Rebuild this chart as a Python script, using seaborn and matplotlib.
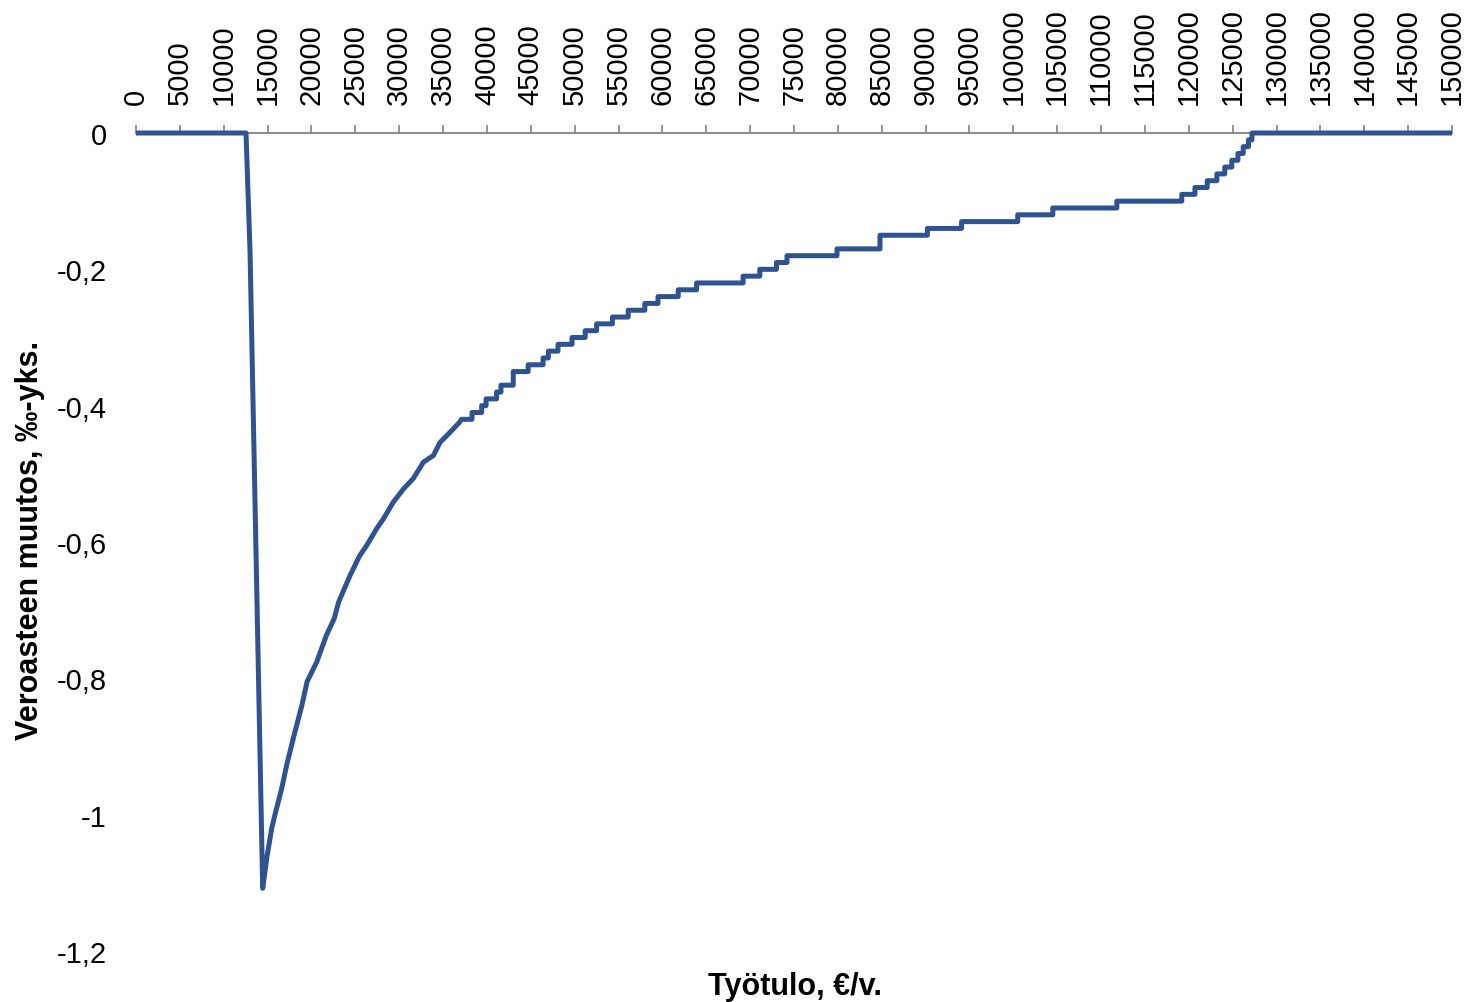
import matplotlib
matplotlib.use("Agg")
import matplotlib.pyplot as plt
import seaborn as sns
import pandas as pd
import numpy as np

# ---- data ----
# smooth (steep) part: income (€/yr) and change in tax rate (%-points)
smooth_income = [0, 12540, 13000, 14440, 14900, 15470, 15840, 16600, 17180, 17930,
                 18900, 19500, 20600, 21700, 22600, 23100, 24400, 25500, 26300,
                 27400, 28200, 29300, 30500, 31600, 32750, 33900, 34650, 35800, 36900]
smooth_rate = [0, 0, -0.175, -1.108, -1.064, -1.02, -1.0, -0.962, -0.927, -0.888,
               -0.84, -0.805, -0.776, -0.737, -0.712, -0.688, -0.649, -0.62, -0.605,
               -0.581, -0.566, -0.542, -0.522, -0.507, -0.483, -0.473, -0.454, -0.439, -0.424]

# stepped part (values rounded to 0.01): income where each level starts
step_start = [37100, 38300, 39400, 39900, 41100, 41600, 43000, 44700, 46400, 47000,
              48100, 49700, 51200, 52500, 54300, 56100, 58000, 59500, 61800, 63900,
              69200, 71100, 73000, 74200, 79900, 84800, 90200, 94100, 100500, 104500,
              111800, 119200, 120700, 122100, 123200, 124100, 124900, 125600, 126200,
              126800, 127200]
step_rate = [-0.42, -0.41, -0.40, -0.39, -0.38, -0.37, -0.35, -0.34, -0.33, -0.32,
             -0.31, -0.30, -0.29, -0.28, -0.27, -0.26, -0.25, -0.24, -0.23, -0.22,
             -0.21, -0.20, -0.19, -0.18, -0.17, -0.15, -0.14, -0.13, -0.12, -0.11,
             -0.10, -0.09, -0.08, -0.07, -0.06, -0.05, -0.04, -0.03, -0.02,
             -0.01, 0.0]
income_max = 150000

x_ticks = list(range(0, 150001, 5000))
x_tick_labels = [str(v) for v in x_ticks]
y_ticks = [0, -0.2, -0.4, -0.6, -0.8, -1.0, -1.2]
y_tick_labels = ["0", "-0,2", "-0,4", "-0,6", "-0,8", "-1", "-1,2"]

x_title = "Työtulo, €/v."
y_title = "Veroasteen muutos, ‰-yks."

# ---- build line vertices (stairs for the stepped part) ----
xs = list(smooth_income)
ys = list(smooth_rate)
ends = step_start[1:] + [income_max]
for s, e, r in zip(step_start, ends, step_rate):
    xs += [s, e]
    ys += [r, r]
df = pd.DataFrame({"income": xs, "rate": ys})

sns.set_theme(style="white")
plt.rcParams["font.family"] = ["Liberation Sans", "DejaVu Sans"]
plt.rcParams["text.color"] = "black"
plt.rcParams["axes.labelcolor"] = "black"

fig = plt.figure(figsize=(14.68, 10.03), dpi=100)
ax = fig.add_axes([136 / 1468, 1 - 952 / 1003, 1316 / 1468, 818 / 1003])

sns.lineplot(data=df, x="income", y="rate", sort=False, estimator=None,
             color="#2F5290", linewidth=3.6, ax=ax)
for ln in ax.lines:
    ln.set_solid_joinstyle("round")
    ln.set_solid_capstyle("butt")
    ln.set_clip_on(False)
    ln.set_zorder(4)

ax.set_xlim(0, 150000)
ax.set_ylim(-1.2, 0)

for side in ["left", "right", "bottom"]:
    ax.spines[side].set_visible(False)
ax.spines["top"].set_visible(True)
ax.spines["top"].set_color("#8C8C8C")
ax.spines["top"].set_linewidth(1.5)
ax.spines["top"].set_zorder(3)

ax.xaxis.tick_top()
ax.set_xticks(x_ticks)
ax.set_xticklabels(x_tick_labels, rotation=90, fontsize=21, color="black")
ax.tick_params(axis="x", which="major", direction="out", length=6, width=1.3,
               color="#8C8C8C", pad=15, top=True, bottom=False)

ax.set_yticks(y_ticks)
ax.set_yticklabels(y_tick_labels, fontsize=21, color="black")
ax.tick_params(axis="y", length=0, pad=21)
ax.grid(False)

ax.set_xlabel("")
ax.set_ylabel("")
fig.text(795 / 1468, 1 - 987 / 1003, x_title, fontsize=22, fontweight="bold",
         ha="center", va="center", color="black")
fig.text(30 / 1468, 1 - 540 / 1003, y_title, fontsize=22, fontweight="bold",
         ha="center", va="center", rotation=90, color="black")

fig.savefig("out.png", dpi=100, facecolor="white")
